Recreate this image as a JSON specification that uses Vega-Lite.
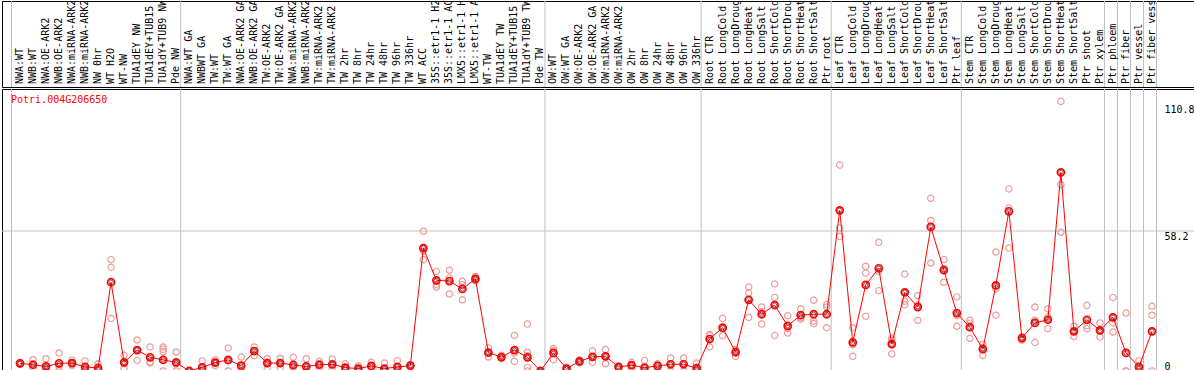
{
  "$schema": "https://vega.github.io/schema/vega-lite/v6.json",
  "padding": {"left": 1, "top": 0, "right": 0, "bottom": 0},
  "background": "white",
  "spacing": 0,
  "config": {
    "view": {"stroke": "black", "strokeWidth": 1},
    "concat": {"spacing": 0},
    "font": "DejaVu Sans Mono"
  },
  "datasets": {
    "cats": [
      {"i": 1, "label": "NWA:WT", "mean": 3.2},
      {"i": 2, "label": "NWB:WT", "mean": 2.6},
      {"i": 3, "label": "NWA:OE-ARK2", "mean": 1.9},
      {"i": 4, "label": "NWB:OE-ARK2", "mean": 3.2},
      {"i": 5, "label": "NWA:miRNA-ARK2", "mean": 3.3},
      {"i": 6, "label": "NWB:miRNA-ARK2", "mean": 1.7},
      {"i": 7, "label": "NW 0hr", "mean": 1.25},
      {"i": 8, "label": "WT H2O", "mean": 36.9},
      {"i": 9, "label": "WT-NW", "mean": 3.6},
      {"i": 10, "label": "TUA1dEY NW", "mean": 8.7},
      {"i": 11, "label": "TUA1dEY+TUB15 NW", "mean": 5.7},
      {"i": 12, "label": "TUA1dY+TUB9 NW", "mean": 4.6},
      {"i": 13, "label": "Pde NW", "mean": 3.6},
      {"i": 14, "label": "NWA:WT GA", "mean": 0},
      {"i": 15, "label": "NWBWT GA", "mean": 1.5},
      {"i": 16, "label": "TW:WT", "mean": 3.5},
      {"i": 17, "label": "TW:WT GA", "mean": 4.6},
      {"i": 18, "label": "NWA:OE-ARK2 GA", "mean": 2.2},
      {"i": 19, "label": "NWB:OE-ARK2 GA", "mean": 8.3},
      {"i": 20, "label": "TW:OE-ARK2", "mean": 3.3},
      {"i": 21, "label": "TW:OE-ARK2 GA", "mean": 3.3},
      {"i": 22, "label": "NWA:miRNA-ARK2 GA", "mean": 2.5},
      {"i": 23, "label": "NWB:miRNA-ARK2 GA", "mean": 1.9},
      {"i": 24, "label": "TW:miRNA-ARK2", "mean": 2.6},
      {"i": 25, "label": "TW:miRNA-ARK2 GA", "mean": 2.8},
      {"i": 26, "label": "TW 2hr", "mean": 1.4},
      {"i": 27, "label": "TW 8hr", "mean": 1.0},
      {"i": 28, "label": "TW 24hr", "mean": 2.1},
      {"i": 29, "label": "TW 48hr", "mean": 1.0},
      {"i": 30, "label": "TW 96hr", "mean": 1.7},
      {"i": 31, "label": "TW 336hr", "mean": 2.2},
      {"i": 32, "label": "WT ACC", "mean": 51.1},
      {"i": 33, "label": "35S::etr1-1 H2O", "mean": 37.7},
      {"i": 34, "label": "35S::etr1-1 ACC", "mean": 37.4},
      {"i": 35, "label": "LMX5::etr1-1 H2O", "mean": 34.1},
      {"i": 36, "label": "LMX5::etr1-1 ACC", "mean": 38.3},
      {"i": 37, "label": "WT-TW", "mean": 7.6},
      {"i": 38, "label": "TUA1dEY TW", "mean": 5.8},
      {"i": 39, "label": "TUA1dEY+TUB15 TW", "mean": 8.7},
      {"i": 40, "label": "TUA1dY+TUB9 TW", "mean": 5.7},
      {"i": 41, "label": "Pde TW", "mean": 0},
      {"i": 42, "label": "OW:WT", "mean": 7.5},
      {"i": 43, "label": "OW:WT GA", "mean": 1.0},
      {"i": 44, "label": "OW:OE-ARK2", "mean": 4.0},
      {"i": 45, "label": "OW:OE-ARK2 GA", "mean": 5.9},
      {"i": 46, "label": "OW:miRNA-ARK2", "mean": 6.1},
      {"i": 47, "label": "OW:miRNA-ARK2 GA", "mean": 1.7},
      {"i": 48, "label": "OW 2hr", "mean": 2.4},
      {"i": 49, "label": "OW 8hr", "mean": 1.4},
      {"i": 50, "label": "OW 24hr", "mean": 2.1},
      {"i": 51, "label": "OW 48hr", "mean": 2.8},
      {"i": 52, "label": "OW 96hr", "mean": 2.8},
      {"i": 53, "label": "OW 336hr", "mean": 1.2},
      {"i": 54, "label": "Root CTR", "mean": 13.3},
      {"i": 55, "label": "Root LongCold", "mean": 18.0},
      {"i": 56, "label": "Root LongDrought", "mean": 7.8},
      {"i": 57, "label": "Root LongHeat", "mean": 29.6},
      {"i": 58, "label": "Root LongSalt", "mean": 23.6},
      {"i": 59, "label": "Root ShortCold", "mean": 27.4},
      {"i": 60, "label": "Root ShortDrought", "mean": 18.8},
      {"i": 61, "label": "Root ShortHeat", "mean": 23.2},
      {"i": 62, "label": "Root ShortSalt", "mean": 23.6},
      {"i": 63, "label": "Ptr root", "mean": 23.6},
      {"i": 64, "label": "Leaf CTR", "mean": 66.8},
      {"i": 65, "label": "Leaf LongCold", "mean": 11.9},
      {"i": 66, "label": "Leaf LongDrought", "mean": 35.8},
      {"i": 67, "label": "Leaf LongHeat", "mean": 42.7},
      {"i": 68, "label": "Leaf LongSalt", "mean": 11.2},
      {"i": 69, "label": "Leaf ShortCold", "mean": 32.7},
      {"i": 70, "label": "Leaf ShortDrought", "mean": 26.6},
      {"i": 71, "label": "Leaf ShortHeat", "mean": 59.9},
      {"i": 72, "label": "Leaf ShortSalt", "mean": 41.9},
      {"i": 73, "label": "Ptr leaf", "mean": 24.1},
      {"i": 74, "label": "Stem CTR", "mean": 18.2},
      {"i": 75, "label": "Stem LongCold", "mean": 9.1},
      {"i": 76, "label": "Stem LongDrought", "mean": 35.6},
      {"i": 77, "label": "Stem LongHeat", "mean": 66.4},
      {"i": 78, "label": "Stem LongSalt", "mean": 13.7},
      {"i": 79, "label": "Stem ShortCold", "mean": 20.0},
      {"i": 80, "label": "Stem ShortDrought", "mean": 21.3},
      {"i": 81, "label": "Stem ShortHeat", "mean": 82.6},
      {"i": 82, "label": "Stem ShortSalt", "mean": 16.5},
      {"i": 83, "label": "Ptr shoot", "mean": 21.3},
      {"i": 84, "label": "Ptr xylem", "mean": 16.9},
      {"i": 85, "label": "Ptr phloem", "mean": 22.3},
      {"i": 86, "label": "Ptr fiber", "mean": 7.5},
      {"i": 87, "label": "Ptr vessel", "mean": 1.7},
      {"i": 88, "label": "Ptr fiber vessel", "mean": 16.5}
    ],
    "bounds": [{"i": 1}, {"i": 14}, {"i": 42}, {"i": 54}, {"i": 64}, {"i": 74}, {"i": 85}, {"i": 86}, {"i": 87}, {"i": 88}],
    "ends": [{"i": 88}],
    "reps": [
      {"i": 1, "v": 3.5}, {"i": 1, "v": 2.8}, {"i": 1, "v": 3.0},
      {"i": 2, "v": 4.7}, {"i": 2, "v": 2.5}, {"i": 2, "v": 1.0},
      {"i": 3, "v": 5.1}, {"i": 3, "v": 1.0}, {"i": 3, "v": 0},
      {"i": 4, "v": 7.5}, {"i": 4, "v": 2.0}, {"i": 4, "v": 0.3},
      {"i": 5, "v": 4.5}, {"i": 5, "v": 3.3}, {"i": 5, "v": 2.4},
      {"i": 6, "v": 4.2}, {"i": 6, "v": 0.2}, {"i": 6, "v": 0.8},
      {"i": 7, "v": 3.0}, {"i": 7, "v": 0.6}, {"i": 7, "v": 0.2},
      {"i": 8, "v": 46.3}, {"i": 8, "v": 43.1}, {"i": 8, "v": 21.8},
      {"i": 9, "v": 6.5}, {"i": 9, "v": 3.0}, {"i": 9, "v": 1.2},
      {"i": 10, "v": 12.9}, {"i": 10, "v": 8.8}, {"i": 10, "v": 4.4},
      {"i": 11, "v": 10.0}, {"i": 11, "v": 3.8}, {"i": 11, "v": 3.3},
      {"i": 12, "v": 10.0}, {"i": 12, "v": 9.0}, {"i": 12, "v": 8.0}, {"i": 12, "v": 0},
      {"i": 13, "v": 7.9}, {"i": 13, "v": 2.9}, {"i": 13, "v": 0},
      {"i": 14, "v": 0.3}, {"i": 14, "v": 0}, {"i": 14, "v": 0},
      {"i": 15, "v": 4.2}, {"i": 15, "v": 0.3}, {"i": 15, "v": 0},
      {"i": 16, "v": 4.7}, {"i": 16, "v": 3.5}, {"i": 16, "v": 2.3},
      {"i": 17, "v": 9.6}, {"i": 17, "v": 4.2}, {"i": 17, "v": 0},
      {"i": 18, "v": 5.8}, {"i": 18, "v": 0.8}, {"i": 18, "v": 0},
      {"i": 19, "v": 10.0}, {"i": 19, "v": 8.4}, {"i": 19, "v": 6.4},
      {"i": 20, "v": 5.1}, {"i": 20, "v": 3.6}, {"i": 20, "v": 1.2},
      {"i": 21, "v": 5.3}, {"i": 21, "v": 3.4}, {"i": 21, "v": 1.2},
      {"i": 22, "v": 5.7}, {"i": 22, "v": 1.8}, {"i": 22, "v": 0},
      {"i": 23, "v": 5.1}, {"i": 23, "v": 0.6}, {"i": 23, "v": 0},
      {"i": 24, "v": 4.0}, {"i": 24, "v": 2.6}, {"i": 24, "v": 1.2},
      {"i": 25, "v": 5.0}, {"i": 25, "v": 2.3}, {"i": 25, "v": 1.2},
      {"i": 26, "v": 3.0}, {"i": 26, "v": 1.0}, {"i": 26, "v": 0.2},
      {"i": 27, "v": 2.2}, {"i": 27, "v": 0.6}, {"i": 27, "v": 0.2},
      {"i": 28, "v": 3.6}, {"i": 28, "v": 1.9}, {"i": 28, "v": 0.8},
      {"i": 29, "v": 3.3}, {"i": 29, "v": 0}, {"i": 29, "v": 0},
      {"i": 30, "v": 4.3}, {"i": 30, "v": 0.6}, {"i": 30, "v": 0.2},
      {"i": 31, "v": 2.6}, {"i": 31, "v": 2.2}, {"i": 31, "v": 1.8},
      {"i": 32, "v": 58.1}, {"i": 32, "v": 49.8}, {"i": 32, "v": 46.3},
      {"i": 33, "v": 41.4}, {"i": 33, "v": 35.9}, {"i": 33, "v": 34.9},
      {"i": 34, "v": 41.9}, {"i": 34, "v": 38.7}, {"i": 34, "v": 32.0},
      {"i": 35, "v": 37.3}, {"i": 35, "v": 35.9}, {"i": 35, "v": 29.6},
      {"i": 36, "v": 39.3}, {"i": 36, "v": 38.3}, {"i": 36, "v": 37.5},
      {"i": 37, "v": 9.6}, {"i": 37, "v": 7.6}, {"i": 37, "v": 5.8},
      {"i": 38, "v": 6.5}, {"i": 38, "v": 5.8}, {"i": 38, "v": 5.2},
      {"i": 39, "v": 14.8}, {"i": 39, "v": 7.5}, {"i": 39, "v": 4.0},
      {"i": 40, "v": 19.5}, {"i": 40, "v": 7.8}, {"i": 40, "v": 6.4}, {"i": 40, "v": 1.5}, {"i": 40, "v": 0},
      {"i": 41, "v": 0}, {"i": 41, "v": 0}, {"i": 41, "v": 0},
      {"i": 42, "v": 9.3}, {"i": 42, "v": 8.5}, {"i": 42, "v": 4.7},
      {"i": 43, "v": 1.6}, {"i": 43, "v": 0.6}, {"i": 43, "v": 0.8},
      {"i": 44, "v": 4.6}, {"i": 44, "v": 4.0}, {"i": 44, "v": 3.4},
      {"i": 45, "v": 8.4}, {"i": 45, "v": 5.6}, {"i": 45, "v": 3.7},
      {"i": 46, "v": 8.9}, {"i": 46, "v": 6.3}, {"i": 46, "v": 3.0},
      {"i": 47, "v": 2.0}, {"i": 47, "v": 1.7}, {"i": 47, "v": 1.4},
      {"i": 48, "v": 3.6}, {"i": 48, "v": 2.4}, {"i": 48, "v": 1.2},
      {"i": 49, "v": 4.4}, {"i": 49, "v": 0}, {"i": 49, "v": 0},
      {"i": 50, "v": 3.0}, {"i": 50, "v": 2.6}, {"i": 50, "v": 0.6},
      {"i": 51, "v": 5.4}, {"i": 51, "v": 2.9}, {"i": 51, "v": 0},
      {"i": 52, "v": 5.4}, {"i": 52, "v": 3.0}, {"i": 52, "v": 0},
      {"i": 53, "v": 3.3}, {"i": 53, "v": 0.3}, {"i": 53, "v": 0},
      {"i": 54, "v": 15.2}, {"i": 54, "v": 14.7}, {"i": 54, "v": 10.0},
      {"i": 55, "v": 21.9}, {"i": 55, "v": 17.6}, {"i": 55, "v": 14.7},
      {"i": 56, "v": 8.9}, {"i": 56, "v": 8.2}, {"i": 56, "v": 6.1},
      {"i": 57, "v": 34.9}, {"i": 57, "v": 32.4}, {"i": 57, "v": 22.3},
      {"i": 58, "v": 26.6}, {"i": 58, "v": 24.6}, {"i": 58, "v": 19.5},
      {"i": 59, "v": 36.2}, {"i": 59, "v": 30.6}, {"i": 59, "v": 14.8},
      {"i": 60, "v": 23.0}, {"i": 60, "v": 17.6}, {"i": 60, "v": 15.8},
      {"i": 61, "v": 25.8}, {"i": 61, "v": 22.2}, {"i": 61, "v": 21.6},
      {"i": 62, "v": 29.4}, {"i": 62, "v": 20.7}, {"i": 62, "v": 19.7},
      {"i": 63, "v": 27.6}, {"i": 63, "v": 26.6}, {"i": 63, "v": 18.0},
      {"i": 64, "v": 85.6}, {"i": 64, "v": 59.5}, {"i": 64, "v": 56.0},
      {"i": 65, "v": 17.9}, {"i": 65, "v": 10.9}, {"i": 65, "v": 6.1},
      {"i": 66, "v": 43.5}, {"i": 66, "v": 40.7}, {"i": 66, "v": 22.7},
      {"i": 67, "v": 53.5}, {"i": 67, "v": 41.4}, {"i": 67, "v": 33.4},
      {"i": 68, "v": 13.7}, {"i": 68, "v": 12.9}, {"i": 68, "v": 7.1},
      {"i": 69, "v": 40.3}, {"i": 69, "v": 29.0}, {"i": 69, "v": 27.6},
      {"i": 70, "v": 31.3}, {"i": 70, "v": 27.4}, {"i": 70, "v": 21.1},
      {"i": 71, "v": 71.8}, {"i": 71, "v": 62.6}, {"i": 71, "v": 44.9},
      {"i": 72, "v": 46.3}, {"i": 72, "v": 42.5}, {"i": 72, "v": 36.9},
      {"i": 73, "v": 30.8}, {"i": 73, "v": 23.0}, {"i": 73, "v": 18.6},
      {"i": 74, "v": 21.1}, {"i": 74, "v": 19.9}, {"i": 74, "v": 13.6},
      {"i": 75, "v": 11.0}, {"i": 75, "v": 9.8}, {"i": 75, "v": 6.5},
      {"i": 76, "v": 49.5}, {"i": 76, "v": 34.2}, {"i": 76, "v": 23.2},
      {"i": 77, "v": 75.7}, {"i": 77, "v": 67.8}, {"i": 77, "v": 51.1},
      {"i": 78, "v": 14.2}, {"i": 78, "v": 13.3}, {"i": 78, "v": 12.8},
      {"i": 79, "v": 26.6}, {"i": 79, "v": 21.1}, {"i": 79, "v": 11.9},
      {"i": 80, "v": 25.8}, {"i": 80, "v": 22.4}, {"i": 80, "v": 17.6},
      {"i": 81, "v": 112.1}, {"i": 81, "v": 77.5}, {"i": 81, "v": 57.7},
      {"i": 82, "v": 18.6}, {"i": 82, "v": 16.5}, {"i": 82, "v": 14.4},
      {"i": 83, "v": 27.3}, {"i": 83, "v": 18.8}, {"i": 83, "v": 17.6},
      {"i": 84, "v": 20.0}, {"i": 84, "v": 16.5}, {"i": 84, "v": 14.1},
      {"i": 85, "v": 30.6}, {"i": 85, "v": 20.0}, {"i": 85, "v": 16.2},
      {"i": 86, "v": 24.1}, {"i": 86, "v": 0}, {"i": 86, "v": 0},
      {"i": 87, "v": 4.3}, {"i": 87, "v": 0.8}, {"i": 87, "v": 0},
      {"i": 88, "v": 26.9}, {"i": 88, "v": 23.2}, {"i": 88, "v": 0}
    ]
  },
  "vconcat": [
    {
      "width": 1192,
      "height": 86,
      "layer": [
        {
          "data": {"name": "bounds"},
          "mark": {"type": "rule", "color": "#c0c0c0", "strokeWidth": 1, "xOffset": -2},
          "encoding": {"x": {"field": "i", "type": "ordinal", "bandPosition": 0, "axis": null}}
        },
        {
          "data": {"name": "ends"},
          "mark": {"type": "rule", "color": "#c0c0c0", "strokeWidth": 1, "xOffset": -2},
          "encoding": {"x": {"field": "i", "type": "ordinal", "bandPosition": 1, "axis": null}}
        },
        {
          "data": {"name": "cats"},
          "mark": {"type": "text", "angle": 270, "align": "left", "baseline": "middle", "font": "DejaVu Sans Mono", "fontSize": 10, "color": "black", "clip": true, "yOffset": -3},
          "encoding": {
            "x": {
              "field": "i",
              "type": "ordinal",
              "axis": null,
              "scale": {
                "type": "band",
                "domain": [1,2,3,4,5,6,7,8,9,10,11,12,13,14,15,16,17,18,19,20,21,22,23,24,25,26,27,28,29,30,31,32,33,34,35,36,37,38,39,40,41,42,43,44,45,46,47,48,49,50,51,52,53,54,55,56,57,58,59,60,61,62,63,64,65,66,67,68,69,70,71,72,73,74,75,76,77,78,79,80,81,82,83,84,85,86,87,88],
                "paddingInner": 0,
                "paddingOuter": 0,
                "range": [11.5, 1156.5]
              }
            },
            "y": {"datum": 0, "type": "quantitative", "scale": {"domain": [0, 1]}, "axis": null},
            "text": {"field": "label"}
          }
        }
      ]
    },
    {
      "width": 1192,
      "height": 282,
      "layer": [
        {
          "data": {"name": "ends"},
          "mark": {"type": "rule", "color": "#c0c0c0", "strokeWidth": 1},
          "encoding": {
            "y": {
              "datum": 58.2,
              "type": "quantitative",
              "scale": {"domain": [0, 117.25], "nice": false, "zero": false},
              "axis": {
                "orient": "right",
                "values": [0, 58.2, 110.8],
                "labelExpr": "'' + datum.value",
                "offset": -30,
                "domain": false,
                "ticks": false,
                "grid": false,
                "title": null,
                "labelPadding": 0,
                "labelAlign": "left",
                "labelFont": "DejaVu Sans Mono",
                "labelFontSize": 10,
                "labelColor": "black",
                "labelBaseline": {"condition": {"test": "datum.value === 0", "value": "bottom"}, "value": "top"}
              }
            }
          }
        },
        {
          "data": {"name": "bounds"},
          "mark": {"type": "rule", "color": "#c0c0c0", "strokeWidth": 1, "xOffset": -2},
          "encoding": {"x": {"field": "i", "type": "ordinal", "bandPosition": 0, "axis": null}}
        },
        {
          "data": {"name": "ends"},
          "mark": {"type": "rule", "color": "#c0c0c0", "strokeWidth": 1, "xOffset": -2},
          "encoding": {"x": {"field": "i", "type": "ordinal", "bandPosition": 1, "axis": null}}
        },
        {
          "data": {"name": "reps"},
          "mark": {"type": "point", "shape": "circle", "filled": false, "size": 40, "stroke": "#ef9a9a", "strokeWidth": 1.2, "opacity": 1},
          "encoding": {
            "x": {"field": "i", "type": "ordinal", "axis": null},
            "y": {"field": "v", "type": "quantitative"}
          }
        },
        {
          "data": {"name": "cats"},
          "mark": {"type": "line", "color": "#ff0000", "strokeWidth": 1},
          "encoding": {
            "x": {"field": "i", "type": "ordinal", "axis": null},
            "y": {"field": "mean", "type": "quantitative"}
          }
        },
        {
          "data": {"name": "cats"},
          "mark": {"type": "point", "shape": "circle", "filled": false, "size": 50, "stroke": "#ff0000", "strokeWidth": 1.7, "opacity": 1},
          "encoding": {
            "x": {
              "field": "i",
              "type": "ordinal",
              "axis": null,
              "scale": {
                "type": "band",
                "domain": [1,2,3,4,5,6,7,8,9,10,11,12,13,14,15,16,17,18,19,20,21,22,23,24,25,26,27,28,29,30,31,32,33,34,35,36,37,38,39,40,41,42,43,44,45,46,47,48,49,50,51,52,53,54,55,56,57,58,59,60,61,62,63,64,65,66,67,68,69,70,71,72,73,74,75,76,77,78,79,80,81,82,83,84,85,86,87,88],
                "paddingInner": 0,
                "paddingOuter": 0,
                "range": [11.5, 1156.5]
              }
            },
            "y": {"field": "mean", "type": "quantitative"}
          }
        },
        {
          "data": {"name": "cats"},
          "mark": {"type": "point", "shape": "circle", "filled": false, "size": 18, "stroke": "#550000", "strokeWidth": 0.8, "opacity": 0.8},
          "encoding": {
            "x": {"field": "i", "type": "ordinal", "axis": null},
            "y": {"field": "mean", "type": "quantitative"}
          }
        },
        {
          "data": {"name": "ends"},
          "mark": {"type": "text", "text": "Potri.004G206650", "align": "left", "baseline": "alphabetic", "font": "DejaVu Sans Mono", "fontSize": 10, "color": "#ff0000", "xOffset": -9},
          "encoding": {
            "x": {"datum": 1, "type": "ordinal"},
            "y": {"datum": 111.4, "type": "quantitative"}
          }
        }
      ]
    }
  ]
}
